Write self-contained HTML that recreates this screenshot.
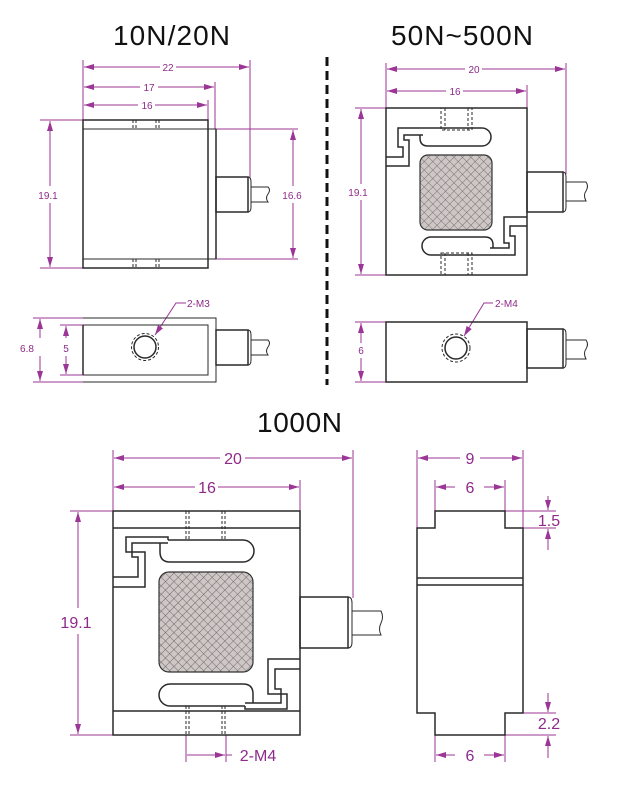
<!DOCTYPE html>
<html><head><meta charset="utf-8"><style>
html,body{margin:0;padding:0;background:#fff;}
svg{display:block;}
text{font-family:"Liberation Sans",sans-serif;}
.d{stroke:#9b3596;stroke-width:1;fill:none;}
.t{fill:#8e2a8a;}
.l{stroke:#2a2a2a;stroke-width:1.5;fill:none;}
.th{stroke:#2a2a2a;stroke-width:1;fill:none;}
.dash{stroke:#2a2a2a;stroke-width:1;stroke-dasharray:3,2;fill:none;}
</style></head><body>
<svg width="630" height="800" viewBox="0 0 630 800" xmlns="http://www.w3.org/2000/svg">
<defs>
<marker id="a" viewBox="0 0 10 6" refX="10" refY="3" markerWidth="10" markerHeight="6" orient="auto-start-reverse" markerUnits="userSpaceOnUse"><path d="M0,0 L10,3 L0,6 z" fill="#9b3596"/></marker>
<pattern id="h" width="6" height="6" patternUnits="userSpaceOnUse" patternTransform="rotate(45)"><rect width="6" height="6" fill="#cfc6c6"/><path d="M0,0 H6 M0,0 V6" stroke="#555" stroke-width="0.8"/></pattern>
</defs>
<rect width="630" height="800" fill="#fff"/>

<text x="113" y="45" font-size="28" textLength="117" fill="#111">10N/20N</text>
<text x="391" y="45" font-size="28" textLength="142" fill="#111">50N~500N</text>
<text x="257" y="432" font-size="28" textLength="85" fill="#111">1000N</text>

<line x1="327" y1="57" x2="327" y2="385" stroke="#111" stroke-width="3" stroke-dasharray="9,5"/>

<g class="d">
<line x1="83" y1="60" x2="83" y2="120"/><line x1="250" y1="60" x2="250" y2="178"/>
<line x1="215" y1="82" x2="215" y2="129"/><line x1="208" y1="100" x2="208" y2="120"/>
<line x1="84" y1="67" x2="160" y2="67" marker-start="url(#a)"/><line x1="176" y1="67" x2="249" y2="67" marker-end="url(#a)"/>
<line x1="84" y1="87" x2="140" y2="87" marker-start="url(#a)"/><line x1="158" y1="87" x2="214" y2="87" marker-end="url(#a)"/>
<line x1="84" y1="105" x2="138" y2="105" marker-start="url(#a)"/><line x1="155" y1="105" x2="207" y2="105" marker-end="url(#a)"/>
<line x1="40" y1="120" x2="83" y2="120"/><line x1="40" y1="268" x2="83" y2="268"/>
<line x1="50" y1="121" x2="50" y2="186" marker-start="url(#a)"/><line x1="50" y1="203" x2="50" y2="267" marker-end="url(#a)"/>
<line x1="216" y1="129" x2="298" y2="129"/><line x1="216" y1="259" x2="298" y2="259"/>
<line x1="293" y1="130" x2="293" y2="186" marker-start="url(#a)"/><line x1="293" y1="203" x2="293" y2="258" marker-end="url(#a)"/>
</g>
<g class="t" font-size="10" text-anchor="middle">
<text x="168" y="71">22</text><text x="149" y="91">17</text><text x="147" y="109">16</text>
<text x="48" y="199">19.1</text><text x="292" y="199">16.6</text>
</g>
<g>
<rect x="83" y="120" width="125" height="148" class="l"/>
<line x1="83" y1="129" x2="216" y2="129" class="th"/><line x1="83" y1="259" x2="216" y2="259" class="th"/>
<line x1="216" y1="129" x2="216" y2="259" class="l"/>
<line x1="208" y1="129" x2="208" y2="259" class="dash" stroke-dasharray="5,3"/>
<path d="M133,120v9M136,120v9M156,120v9M159,120v9M133,259v9M136,259v9M156,259v9M159,259v9" class="dash" stroke-dasharray="2,1.5"/>
<rect x="216" y="177" width="32" height="35" class="l"/>
<path d="M248,177 q3,0 3,5 v25 q0,5 -3,5" class="th"/>
<path d="M251,187 H268 q3,3 0,7 q-3,4 0,8 H251" class="th"/>
</g>

<g class="d">
<line x1="33" y1="318" x2="83" y2="318"/><line x1="33" y1="382" x2="83" y2="382"/>
<line x1="60" y1="325" x2="83" y2="325"/><line x1="60" y1="375" x2="83" y2="375"/>
<line x1="40" y1="319" x2="40" y2="338" marker-start="url(#a)"/><line x1="40" y1="356" x2="40" y2="381" marker-end="url(#a)"/>
<line x1="66" y1="326" x2="66" y2="338" marker-start="url(#a)"/><line x1="66" y1="356" x2="66" y2="374" marker-end="url(#a)"/>
<path d="M186,303 H176 L155,335" marker-end="url(#a)"/>
</g>
<g class="t" font-size="10"><text x="27" y="352" text-anchor="middle">6.8</text><text x="66" y="352" text-anchor="middle">5</text><text x="187" y="307">2-M3</text></g>
<g>
<path d="M83,318 H216 V382 H83 M83,325 H208 V375 H83" class="th"/>
<line x1="83" y1="325" x2="83" y2="375" class="l"/>
<circle cx="145" cy="347" r="11" class="l"/><circle cx="145" cy="347" r="13.5" class="dash" stroke-dasharray="3,2"/>
<rect x="216" y="330" width="32" height="35" class="l"/>
<path d="M248,330 q3,0 3,5 v25 q0,5 -3,5" class="th"/>
<path d="M251,340 H268 q3,3 0,7 q-3,4 0,8 H251" class="th"/>
</g>

<g class="d">
<line x1="386" y1="63" x2="386" y2="108"/><line x1="566" y1="63" x2="566" y2="174"/><line x1="527" y1="85" x2="527" y2="108"/>
<line x1="387" y1="69" x2="465" y2="69" marker-start="url(#a)"/><line x1="482" y1="69" x2="565" y2="69" marker-end="url(#a)"/>
<line x1="387" y1="91" x2="446" y2="91" marker-start="url(#a)"/><line x1="463" y1="91" x2="526" y2="91" marker-end="url(#a)"/>
<line x1="355" y1="108" x2="386" y2="108"/><line x1="355" y1="275" x2="386" y2="275"/>
<line x1="361" y1="109" x2="361" y2="184" marker-start="url(#a)"/><line x1="361" y1="200" x2="361" y2="274" marker-end="url(#a)"/>
</g>
<g class="t" font-size="10" text-anchor="middle"><text x="474" y="73">20</text><text x="455" y="95">16</text><text x="358" y="196">19.1</text></g>
<g>
<rect x="386" y="108" width="141" height="167" class="l"/>
<rect x="441" y="108" width="31" height="22" class="dash"/><line x1="445" y1="108" x2="445" y2="130" class="dash"/><line x1="468" y1="108" x2="468" y2="130" class="dash"/>
<rect x="441" y="253" width="31" height="22" class="dash"/><line x1="445" y1="253" x2="445" y2="275" class="dash"/><line x1="468" y1="253" x2="468" y2="275" class="dash"/>
<g class="l">
<path d="M386,157 H403 V147 H398 V128 H433"/>
<path d="M386,166 H409 V140 H404 V135 H423"/>
<path d="M433,128 H482 A9,9 0 0 1 482,146 H428 Q420,146 420,138 V135"/>
</g>
<g transform="rotate(180,456.5,191.5)" class="l">
<path d="M386,157 H403 V147 H398 V128 H433"/>
<path d="M386,166 H409 V140 H404 V135 H423"/>
<path d="M433,128 H482 A9,9 0 0 1 482,146 H428 Q420,146 420,138 V135"/>
</g>
<rect x="420" y="155" width="72" height="75" rx="8" fill="url(#h)" stroke="#333" stroke-width="1.2"/>
<rect x="527" y="172" width="36" height="40" class="l"/>
<path d="M563,172 q3,0 3,5 v30 q0,5 -3,5" class="th"/>
<path d="M566,182 H586 q3,4 0,9 q-3,4 0,10 H566" class="th"/>
</g>

<g class="d">
<line x1="355" y1="322" x2="386" y2="322"/><line x1="355" y1="382" x2="386" y2="382"/>
<line x1="361" y1="323" x2="361" y2="343" marker-start="url(#a)"/><line x1="361" y1="358" x2="361" y2="381" marker-end="url(#a)"/>
<path d="M493,303 H484 L464,336" marker-end="url(#a)"/>
</g>
<g class="t" font-size="10"><text x="361" y="354" text-anchor="middle">6</text><text x="495" y="307">2-M4</text></g>
<g>
<rect x="386" y="322" width="141" height="60" class="l"/>
<circle cx="456" cy="348" r="11" class="l"/><circle cx="456" cy="348" r="14" class="dash"/>
<rect x="527" y="329" width="36" height="39" class="l"/>
<path d="M563,329 q3,0 3,5 v29 q0,5 -3,5" class="th"/>
<path d="M566,340 H586 q3,4 0,9 q-3,4 0,10 H566" class="th"/>
</g>

<g class="d">
<line x1="113" y1="450" x2="113" y2="511"/><line x1="353" y1="450" x2="353" y2="598"/><line x1="300" y1="480" x2="300" y2="511"/>
<line x1="114" y1="458" x2="220" y2="458" marker-start="url(#a)"/><line x1="245" y1="458" x2="352" y2="458" marker-end="url(#a)"/>
<line x1="114" y1="487" x2="195" y2="487" marker-start="url(#a)"/><line x1="218" y1="487" x2="299" y2="487" marker-end="url(#a)"/>
<line x1="70" y1="511" x2="113" y2="511"/><line x1="70" y1="735" x2="113" y2="735"/>
<line x1="78" y1="512" x2="78" y2="608" marker-start="url(#a)"/><line x1="78" y1="634" x2="78" y2="734" marker-end="url(#a)"/>
<line x1="186" y1="735" x2="186" y2="762"/><line x1="226" y1="735" x2="226" y2="762"/>
<line x1="187" y1="755" x2="225" y2="755" marker-end="url(#a)"/><line x1="226" y1="755" x2="232" y2="755"/>
</g>
<g class="t" font-size="16" text-anchor="middle"><text x="233" y="464">20</text><text x="207" y="493">16</text><text x="76" y="628">19.1</text><text x="258" y="761">2-M4</text></g>
<g>
<rect x="113" y="511" width="187" height="224" class="l"/>
<line x1="113" y1="528" x2="300" y2="528" class="l"/><line x1="113" y1="711" x2="300" y2="711" class="l"/>
<path d="M186,511v29M189,511v29M222,511v29M225,511v29M186,706v29M189,706v29M222,706v29M225,706v29" class="dash" stroke-dasharray="3,2"/>
<g class="l">
<path d="M113,577 H138 V557 H132 V543 H168"/>
<path d="M113,587 H145 V552 H126 V537 H168 V540"/>
<path d="M168,540 H243 A11,11 0 0 1 243,562 H170 Q160,562 160,552 V543"/>
</g>
<g transform="rotate(180,206.5,623)" class="l">
<path d="M113,577 H138 V557 H132 V543 H168"/>
<path d="M113,587 H145 V552 H126 V537 H168 V540"/>
<path d="M168,540 H243 A11,11 0 0 1 243,562 H170 Q160,562 160,552 V543"/>
</g>
<rect x="159" y="572" width="94" height="100" rx="10" fill="url(#h)" stroke="#333" stroke-width="1.2"/>
<rect x="300" y="597" width="48" height="51" class="l"/>
<path d="M348,597 q4,0 4,6 v39 q0,6 -4,6" class="th"/>
<path d="M352,611 H381 q3,6 0,12 q-3,6 0,12 H352" class="th"/>
</g>

<g class="d">
<line x1="417" y1="450" x2="417" y2="528"/><line x1="523" y1="450" x2="523" y2="528"/>
<line x1="435" y1="480" x2="435" y2="511"/><line x1="505" y1="480" x2="505" y2="511"/>
<line x1="418" y1="458" x2="460" y2="458" marker-start="url(#a)"/><line x1="480" y1="458" x2="522" y2="458" marker-end="url(#a)"/>
<line x1="436" y1="487" x2="455" y2="487" marker-start="url(#a)"/><line x1="484" y1="487" x2="504" y2="487" marker-end="url(#a)"/>
<line x1="505" y1="511" x2="556" y2="511"/><line x1="523" y1="528" x2="556" y2="528"/>
<line x1="548" y1="496" x2="548" y2="510" marker-end="url(#a)"/><line x1="548" y1="529" x2="548" y2="550" marker-start="url(#a)"/>
<line x1="523" y1="713" x2="556" y2="713"/><line x1="505" y1="735" x2="556" y2="735"/>
<line x1="548" y1="693" x2="548" y2="712" marker-end="url(#a)"/><line x1="548" y1="736" x2="548" y2="758" marker-start="url(#a)"/>
<line x1="435" y1="735" x2="435" y2="762"/><line x1="505" y1="735" x2="505" y2="762"/>
<line x1="436" y1="755" x2="455" y2="755" marker-start="url(#a)"/><line x1="484" y1="755" x2="504" y2="755" marker-end="url(#a)"/>
</g>
<g class="t" font-size="16" text-anchor="middle"><text x="470" y="464">9</text><text x="470" y="493">6</text><text x="549" y="526">1.5</text><text x="549" y="729">2.2</text><text x="470" y="761">6</text></g>
<path d="M435,511 H505 V528 H523 V713 H505 V735 H435 V713 H417 V528 H435 Z" class="l"/>
<line x1="417" y1="578" x2="523" y2="578" class="l"/><line x1="417" y1="585" x2="523" y2="585" class="l"/>
</svg>
</body></html>
